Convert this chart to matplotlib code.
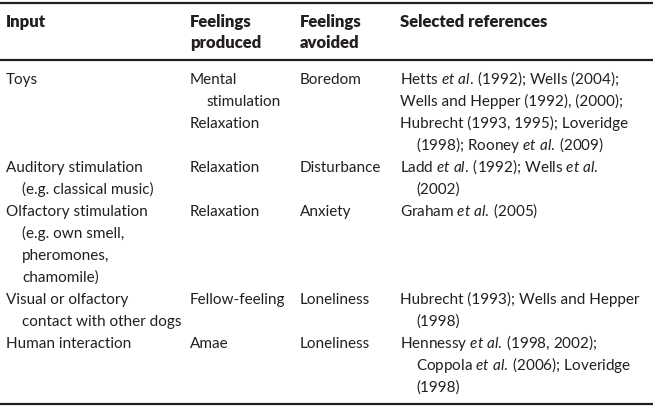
import matplotlib
matplotlib.use("Agg")
import matplotlib.pyplot as plt

# fonts - no Futura here, Lato is the closest geometric-ish sans
plt.rcParams['font.family'] = ['Lato', 'DejaVu Sans']
plt.rcParams['mathtext.fontset'] = 'custom'
plt.rcParams['mathtext.rm'] = 'Lato'
plt.rcParams['mathtext.it'] = 'Lato:italic'

ETAL = r"$\mathit{et\ al.}\:$"

# table content: each cell is a list of items, each item a list of wrapped lines
headers = [["Input"], ["Feelings", "produced"], ["Feelings", "avoided"], ["Selected references"]]

inputs = [
    [["Toys"]],
    [["Auditory stimulation", "(e.g. classical music)"]],
    [["Olfactory stimulation", "(e.g. own smell,", "pheromones,", "chamomile)"]],
    [["Visual or olfactory", "contact with other dogs"]],
    [["Human interaction"]],
]
produced = [
    [["Mental", "stimulation"], ["Relaxation"]],
    [["Relaxation"]],
    [["Relaxation"]],
    [["Fellow-feeling"]],
    [["Amae"]],
]
avoided = [
    [["Boredom"]],
    [["Disturbance"]],
    [["Anxiety"]],
    [["Loneliness"]],
    [["Loneliness"]],
]
references = [
    [["Hetts " + ETAL + "(1992); Wells (2004);"],
     ["Wells and Hepper (1992), (2000);"],
     ["Hubrecht (1993, 1995); Loveridge", "(1998); Rooney " + ETAL + "(2009)"]],
    [["Ladd " + ETAL + "(1992); Wells " + r"$\mathit{et\ al.}$", "(2002)"]],
    [["Graham " + ETAL + "(2005)"]],
    [["Hubrecht (1993); Wells and Hepper", "(1998)"]],
    [["Hennessy " + ETAL + "(1998, 2002);", "Coppola " + ETAL + "(2006); Loveridge", "(1998)"]],
]

W, H = 657, 408
fig = plt.figure(figsize=(W / 100, H / 100), dpi=100)
ax = fig.add_axes([0, 0, 1, 1])
ax.set_xlim(0, W)
ax.set_ylim(H, 0)
ax.axis('off')

col_x = [6, 190, 300, 400]
indent = 16
line_h = 22
fs = 11
ink = '#231f20'

# rules
for y in (3, 60, 404):
    ax.plot([0, 653], [y, y], color=ink, lw=1.6, solid_capstyle='butt')

# header
for x, lines in zip(col_x, headers):
    for i, t in enumerate(lines):
        ax.text(x, 27 + i * 21, t, fontsize=12, fontweight='heavy', color=ink, va='baseline')

# body
columns = [inputs, produced, avoided, references]
line = 0
for r in range(len(inputs)):
    n_lines = 0
    for x, col in zip(col_x, columns):
        k = 0
        for item in col[r]:
            for j, t in enumerate(item):
                ax.text(x + (indent if j else 0), 84 + (line + k) * line_h, t,
                        fontsize=fs, color=ink, va='baseline')
                k += 1
        n_lines = max(n_lines, k)
    line += n_lines

fig.savefig("out.png", dpi=100, facecolor='white')
